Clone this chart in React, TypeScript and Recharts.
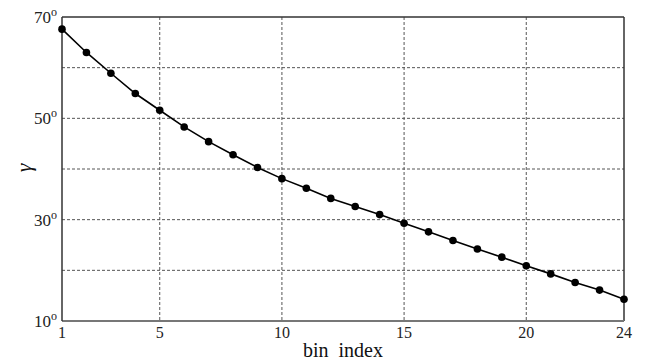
import { LineChart, Line, XAxis, YAxis, CartesianGrid, ReferenceLine } from 'recharts'

const binIndex = [1, 2, 3, 4, 5, 6, 7, 8, 9, 10, 11, 12, 13, 14, 15, 16, 17, 18, 19, 20, 21, 22, 23, 24]
const gamma = [
  67.6, 63.0, 58.9, 54.9, 51.6, 48.3, 45.4, 42.8, 40.3, 38.1, 36.2, 34.2,
  32.6, 31.0, 29.3, 27.6, 25.9, 24.2, 22.6, 20.9, 19.3, 17.6, 16.1, 14.3,
]
const xTicks = [1, 5, 10, 15, 20, 24]
const yTicks = [10, 30, 50, 70]
const yGrid = [20, 30, 40, 50, 60]

const data = binIndex.map((b, i) => ({ bin: b, gamma: gamma[i] }))

const FONT = '"Liberation Serif", "DejaVu Serif", serif'

function YTick(props: any) {
  const { x, y, payload } = props
  return (
    <text x={x + 3} y={y + 6} textAnchor="end" fontFamily={FONT} fontSize={17} fill="#222">
      {payload.value}
      <tspan dy={-7} fontSize={12}>o</tspan>
    </text>
  )
}

function XTick(props: any) {
  const { x, y, payload } = props
  return (
    <text x={x} y={y + 9} textAnchor="middle" fontFamily={FONT} fontSize={16} fill="#222">
      {payload.value}
    </text>
  )
}

export default function App() {
  return (
    <div style={{ position: 'fixed', left: 0, top: 0, width: 651, height: 363, background: '#fff' }}>
      <LineChart width={651} height={363} data={data} margin={{ top: 17, right: 27, bottom: 12, left: 22 }}>
        <CartesianGrid
          stroke="#555"
          strokeDasharray="3 2"
          horizontalValues={yGrid}
          verticalValues={[5, 10, 15, 20]}
        />
        <XAxis
          dataKey="bin"
          type="number"
          domain={[1, 24]}
          ticks={xTicks}
          interval={0}
          height={30}
          tickLine={false}
          axisLine={{ stroke: '#777', strokeWidth: 2 }}
          tick={<XTick />}
        />
        <YAxis
          type="number"
          domain={[10, 70]}
          ticks={yTicks}
          interval={0}
          width={40}
          tickLine={false}
          axisLine={{ stroke: '#333', strokeWidth: 1.5 }}
          tick={<YTick />}
        />
        <ReferenceLine y={70} stroke="#333" strokeWidth={1.5} />
        <ReferenceLine x={24} stroke="#333" strokeWidth={1.5} />
        <Line
          type="linear"
          dataKey="gamma"
          stroke="#000"
          strokeWidth={1.6}
          dot={{ r: 3.8, fill: '#000', stroke: '#000', strokeWidth: 0 }}
          isAnimationActive={false}
        />
        <text x={343} y={357} textAnchor="middle" fontFamily={FONT} fontSize={20} fill="#111" style={{ whiteSpace: 'pre' }}>
          bin  index
        </text>
        <text
          x={23}
          y={168}
          textAnchor="middle"
          dominantBaseline="central"
          fontFamily={FONT}
          fontStyle="italic"
          fontSize={22}
          fill="#111"
          transform="rotate(-90 23 168)"
        >
          γ
        </text>
      </LineChart>
    </div>
  )
}
